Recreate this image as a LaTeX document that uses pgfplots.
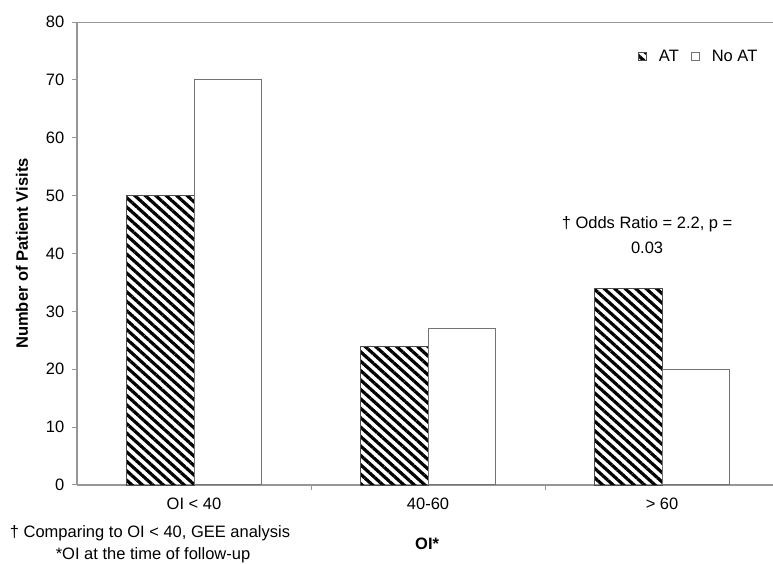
\documentclass[border=0pt]{standalone}
\usepackage{fontspec}
\setmainfont{Liberation Sans}
\usepackage{pgfplots}
\pgfplotsset{compat=1.18}
\usetikzlibrary{patterns.meta}

\definecolor{axisgray}{RGB}{150,150,150}
\newcommand{\chartfont}{\fontsize{16.5}{20}\selectfont}

\begin{document}
\chartfont
\begin{tikzpicture}
  \begin{axis}[name=ax,
      scale only axis, width=696pt, height=463pt,
      ybar=0pt, bar width=0.29,
      xmin=-0.5, xmax=2.474, ymin=0, ymax=80,
      axis x line=bottom, axis y line=left,
      axis line style={axisgray, line width=1.2pt, -},
      tick style={axisgray, line width=1pt},
      tick align=outside, major tick length=5pt,
      ytick={0,10,...,80},
      xtick={0.5,1.5}, xticklabels={},
      extra x ticks={0,1,2},
      extra x tick labels={OI < 40, 40-60, > 60},
      extra x tick style={major tick length=0pt, xticklabel style={yshift=-7pt}},
      /pgf/number format/assume math mode=true,
      ticklabel style={font=\chartfont},
      yticklabel style={xshift=-2pt},
      ylabel={\bfseries Number of Patient Visits},
      every axis y label/.style={at={(axis description cs:0,0.5)}, xshift=-55pt, rotate=90, anchor=center, font=\chartfont},
      xlabel={\bfseries OI*},
      every axis x label/.style={at={(axis description cs:0.503,0)}, yshift=-59pt, anchor=center, font=\chartfont},
      legend columns=2,
      legend style={at={(axis description cs:0.985,0.925)}, anchor=east, draw=none, fill=none,
        font=\chartfont, column sep=10pt},
      legend image code/.code={\draw[#1] (0pt,-4pt) rectangle (8pt,4pt);},
      clip=false,
    ]
    \addplot[draw=black!70, line width=0.6pt,
      pattern={Lines[angle=-42, distance=7pt, line width=3.2pt]}, pattern color=black]
      coordinates {(0,50) (1,24) (2,34)};
    \addlegendentry{AT}
    \addplot[draw=black!55, line width=1pt, fill=white]
      coordinates {(0,70) (1,27) (2,20)};
    \addlegendentry{No AT}

    \draw[axisgray, line width=1pt] (rel axis cs:0,1) -- (rel axis cs:1,1);

    \node[align=center, font=\fontsize{16.5}{25}\selectfont] at (axis cs:1.936,43.2)
      {\textdagger{} Odds Ratio = 2.2, p =\\0.03};
  \end{axis}
  \node[font=\chartfont] at ([xshift=73pt,yshift=-48pt]ax.south west)
    {\textdagger{} Comparing to OI < 40, GEE analysis};
  \node[font=\chartfont] at ([xshift=76pt,yshift=-70pt]ax.south west)
    {*OI at the time of follow-up};
  \pgfresetboundingbox
  \path ([xshift=-77pt,yshift=-79pt]ax.south west) rectangle ([xshift=696pt,yshift=485pt]ax.south west);
\end{tikzpicture}
\end{document}
